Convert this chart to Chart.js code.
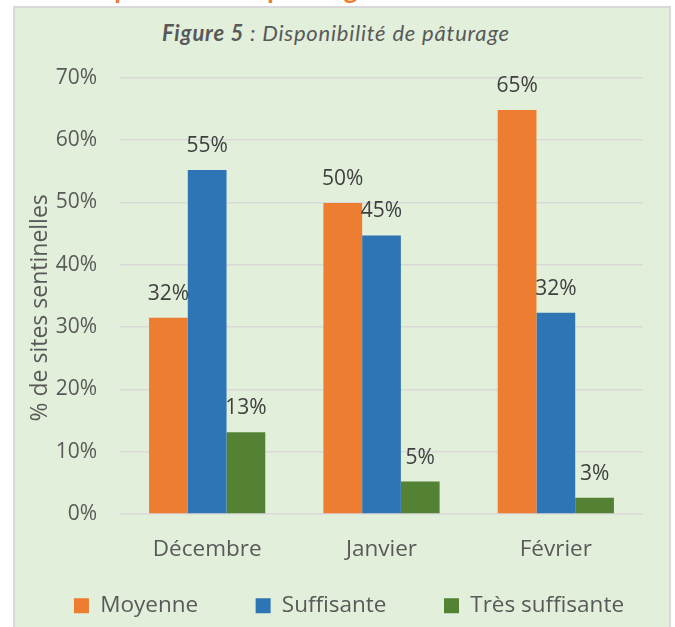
<!DOCTYPE html>
<html><head><meta charset="utf-8">
<script src="https://cdn.jsdelivr.net/npm/chart.js@4.4.1/dist/chart.umd.min.js"></script>
<style>
html,body{margin:0;padding:0;width:675px;height:627px;overflow:hidden;background:#fff;}
#heading{position:absolute;left:76px;top:-24px;font:bold 26.5px Lato;line-height:26px;color:#ED7D31;white-space:nowrap;}
#panel{position:absolute;left:13px;top:6px;width:658px;height:700px;box-sizing:border-box;background:#E2EFDA;border:2px solid #D9D9D9;}
#title{position:absolute;left:162px;top:22px;font:italic 22px Lato;line-height:22px;letter-spacing:0.8px;color:#595959;white-space:nowrap;}
#c{position:absolute;left:0;top:0;}
</style></head>
<body>
<div id="heading">Disponibilité de pâturage</div>
<div id="panel"></div>
<div id="title"><b>Figure 5</b> : Disponibilité de pâturage</div>
<canvas id="c" width="698" height="627"></canvas>
<script>
const categories = ['Décembre', 'Janvier', 'Février'];
const seriesNames = ['Moyenne', 'Suffisante', 'Très suffisante'];
const moyenne = [31.5, 49.9, 64.8];
const suffisante = [55.2, 44.7, 32.3];
const tresSuffisante = [13.1, 5.2, 2.6];
const yMax = 70;
const yStep = 10;
const yAxisTitle = '% de sites sentinelles';

const valueLabels = {
  id: 'valueLabels',
  afterDatasetsDraw(chart) {
    const ctx = chart.ctx;
    ctx.save();
    ctx.font = '21px "Open Sans"';
    ctx.fillStyle = '#404040';
    ctx.textAlign = 'center';
    ctx.textBaseline = 'alphabetic';
    chart.data.datasets.forEach((ds, i) => {
      chart.getDatasetMeta(i).data.forEach((bar, j) => {
        ctx.fillText(Math.round(ds.data[j]) + '%', bar.x, bar.y - 18);
      });
    });
    ctx.restore();
  }
};
const yTitle = {
  id: 'yTitle',
  afterDraw(chart) {
    const { ctx, chartArea } = chart;
    ctx.save();
    ctx.translate(46.5, (chartArea.top + chartArea.bottom) / 2 + 12);
    ctx.rotate(-Math.PI / 2);
    ctx.font = '23px "Open Sans"';
    ctx.fillStyle = '#595959';
    ctx.textAlign = 'center';
    ctx.textBaseline = 'alphabetic';
    ctx.fillText(yAxisTitle, 0, 0);
    ctx.restore();
  }
};

const colors = ['#ED7D31', '#2E75B6', '#548235'];
const catFont = { family: 'Open Sans', size: 22.5 };

new Chart(document.getElementById('c'), {
  type: 'bar',
  data: {
    labels: categories,
    datasets: [moyenne, suffisante, tresSuffisante].map((d, i) => ({
      label: seriesNames[i],
      data: d,
      backgroundColor: colors[i],
      borderWidth: 0,
      categoryPercentage: 0.6667,
      barPercentage: 1
    }))
  },
  options: {
    responsive: false,
    animation: false,
    devicePixelRatio: 1,
    layout: { padding: { left: 0, right: 0, top: 77.7, bottom: 0 } },
    plugins: {
      legend: {
        position: 'bottom',
        labels: { boxWidth: 15, boxHeight: 15, padding: 57.5, color: '#595959', font: catFont }
      },
      tooltip: { enabled: false }
    },
    scales: {
      x: {
        grid: { display: false },
        border: { display: false },
        ticks: { color: '#595959', font: catFont, mirror: true, padding: -49, maxRotation: 0, autoSkip: false },
        afterFit(s) { s.height = 23; }
      },
      y: {
        min: 0, max: yMax,
        ticks: { stepSize: yStep, callback: v => v + '%', color: '#595959', font: { family: 'Open Sans', size: 21 }, padding: 23 },
        grid: { color: '#D9D9D9', lineWidth: 1.5, drawTicks: false },
        border: { display: false },
        afterFit(s) { s.width = 120; }
      },
      yR: {
        position: 'right',
        grid: { display: false },
        border: { display: false },
        ticks: { display: false },
        afterFit(s) { s.width = 55; }
      }
    }
  },
  plugins: [valueLabels, yTitle]
});
</script>
</body></html>
